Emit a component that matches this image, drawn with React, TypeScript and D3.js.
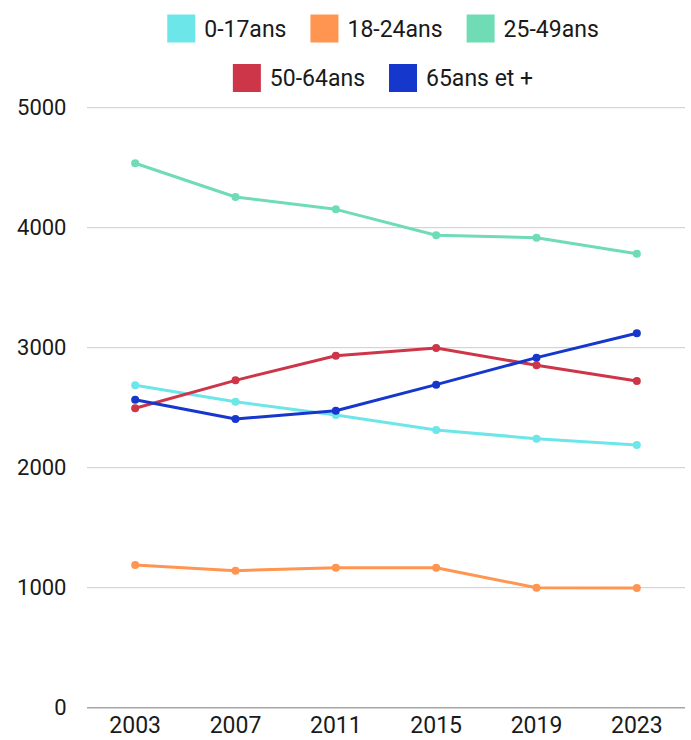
import * as d3 from 'd3';
import { useEffect, useRef } from 'react';

const years = ['2003', '2007', '2011', '2015', '2019', '2023'];
const groups = ['0-17ans', '18-24ans', '25-49ans', '50-64ans', '65ans et +'];
const colors = ['#6de6ea', '#ff9550', '#6fdcb5', '#cd3548', '#1537cc'];

const age0to17 = [2687, 2550, 2439, 2314, 2242, 2189];
const age18to24 = [1189, 1142, 1167, 1167, 1000, 998];
const age25to49 = [4537, 4256, 4153, 3937, 3917, 3783];
const age50to64 = [2495, 2728, 2933, 2998, 2853, 2722];
const age65plus = [2567, 2406, 2475, 2692, 2917, 3120];

const yTicks = [0, 1000, 2000, 3000, 4000, 5000];

const W = 691;
const H = 740;
const margin = { top: 107.7, right: 6, bottom: 32.3, left: 87 };
const font = 'Roboto, "Noto Sans", sans-serif';

export default function App() {
  const svgRef = useRef<SVGSVGElement>(null);

  useEffect(() => {
    document.body.style.margin = '0';
    const svgEl = svgRef.current;
    if (!svgEl) return;
    const svg = d3.select(svgEl);
    svg.selectAll('*').remove();

    const series = [age0to17, age18to24, age25to49, age50to64, age65plus].map((values, i) => ({
      name: groups[i],
      color: colors[i],
      values,
    }));

    const x = d3
      .scalePoint<string>()
      .domain(years)
      .range([margin.left, W - margin.right])
      .padding(0.48);
    const y = d3
      .scaleLinear()
      .domain([0, 5000])
      .range([H - margin.bottom, margin.top]);

    // grid
    svg
      .append('g')
      .selectAll('line')
      .data(yTicks)
      .join('line')
      .attr('x1', margin.left)
      .attr('x2', W - margin.right)
      .attr('y1', (d) => y(d))
      .attr('y2', (d) => y(d))
      .attr('stroke', (d) => (d === 0 ? '#a6a6a6' : '#cccccc'))
      .attr('stroke-width', (d) => (d === 0 ? 1.5 : 1));

    svg
      .append('g')
      .selectAll('text')
      .data(yTicks)
      .join('text')
      .attr('x', 66.5)
      .attr('y', (d) => y(d))
      .attr('dy', '0.35em')
      .attr('text-anchor', 'end')
      .attr('font-family', font)
      .attr('font-size', 22)
      .attr('fill', '#1a1a1a')
      .text((d) => d);

    svg
      .append('g')
      .selectAll('text')
      .data(years)
      .join('text')
      .attr('x', (d) => x(d)!)
      .attr('y', 725)
      .attr('dy', '0.35em')
      .attr('text-anchor', 'middle')
      .attr('font-family', font)
      .attr('font-size', 23)
      .attr('fill', '#1a1a1a')
      .text((d) => d);

    const line = d3
      .line<number>()
      .x((_, i) => x(years[i])!)
      .y((d) => y(d));

    const sg = svg.append('g').selectAll('g').data(series).join('g');
    sg.append('path')
      .attr('d', (d) => line(d.values))
      .attr('fill', 'none')
      .attr('stroke', (d) => d.color)
      .attr('stroke-width', 3)
      .attr('stroke-linejoin', 'round');
    sg.selectAll('circle')
      .data((d) => d.values.map((v, i) => ({ v, i, color: d.color })))
      .join('circle')
      .attr('cx', (d) => x(years[d.i])!)
      .attr('cy', (d) => y(d.v))
      .attr('r', 4)
      .attr('fill', (d) => d.color);

    // legend, two centered rows
    const rows = [
      [0, 1, 2],
      [3, 4],
    ];
    const rowY = [28.5, 78];
    const sw = 28;
    const gapText = 9;
    const gapItem = 24;
    const centerX = 383;
    rows.forEach((idxs, r) => {
      const g = svg.append('g');
      const items = idxs.map((i) => {
        const t = g
          .append('text')
          .attr('font-family', font)
          .attr('font-size', 23)
          .attr('fill', '#1a1a1a')
          .attr('dy', '0.35em')
          .attr('y', rowY[r])
          .text(groups[i]);
        const w = (t.node() as SVGTextElement).getComputedTextLength();
        return { i, t, w };
      });
      const total =
        d3.sum(items, (d) => sw + gapText + d.w) + gapItem * (items.length - 1);
      let cx = centerX - total / 2;
      items.forEach((d) => {
        g.append('rect')
          .attr('x', cx)
          .attr('y', rowY[r] - sw / 2)
          .attr('width', sw)
          .attr('height', sw)
          .attr('fill', colors[d.i]);
        d.t.attr('x', cx + sw + gapText);
        cx += sw + gapText + d.w + gapItem;
      });
    });
  }, []);

  return <svg ref={svgRef} width={W} height={H} style={{ display: 'block' }} />;
}
